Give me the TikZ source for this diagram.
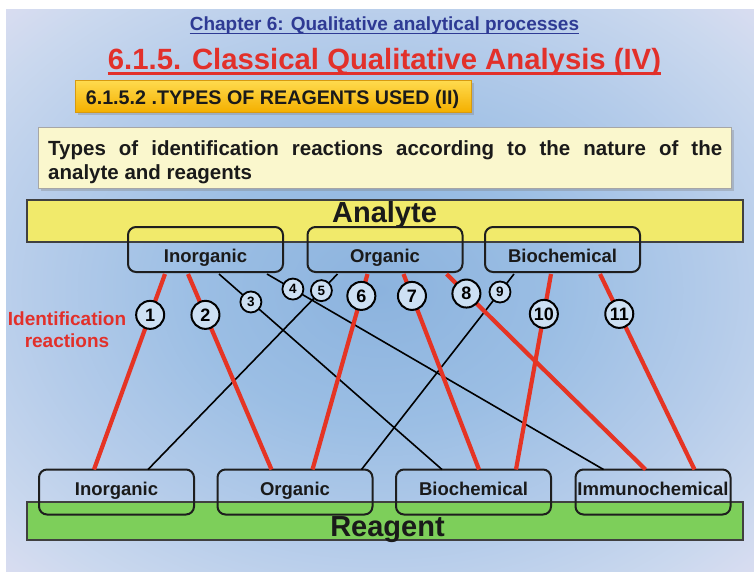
\documentclass[tikz,border=0pt]{standalone}
\usepackage{fontspec}
\setmainfont{Liberation Sans}
\usetikzlibrary{calc,shadows}
\definecolor{bgA}{HTML}{8CB3DE}
\definecolor{bgB}{HTML}{9BBEE4}
\definecolor{bgC}{HTML}{B5CCEA}
\definecolor{bgD}{HTML}{CAD8EE}
\definecolor{bgE}{HTML}{F5E6F5}
\definecolor{chapblue}{HTML}{2E3A94}
\definecolor{titred}{HTML}{E2302A}
\definecolor{lred}{HTML}{E53424}
\definecolor{orgtop}{HTML}{FFDB4F}
\definecolor{orgbot}{HTML}{F4B000}
\definecolor{orgborder}{HTML}{D79A10}
\definecolor{paleyel}{HTML}{FAF7CD}
\definecolor{anayel}{HTML}{F1EA6B}
\definecolor{reagreen}{HTML}{7DCF5A}
\definecolor{boxc}{HTML}{1E1E1E}
\definecolor{txt}{HTML}{1A1A1A}
\definecolor{cfill}{HTML}{CDE0F3}
\pgfdeclareradialshading{bgshade}{\pgfpoint{0bp}{0bp}}{color(0bp)=(bgA); color(12bp)=(bgB); color(23bp)=(bgC); color(31bp)=(bgD); color(44bp)=(bgE); color(50bp)=(bgE)}
\begin{document}
\begin{tikzpicture}[x=1pt, y=-1pt,
  subbox/.style={draw=boxc, line width=2pt, rounded corners=8pt, minimum width=155pt, minimum height=45pt, inner sep=0pt, outer sep=0pt},
  sublbl/.style={font=\fontsize{18.5}{20}\selectfont\bfseries, text=txt, anchor=base, inner sep=0pt},
  redln/.style={draw=lred, line width=4.2pt},
  blkln/.style={draw=black, line width=1.6pt},
  bignum/.style={circle, draw=black, line width=2pt, fill=cfill, minimum size=28pt, inner sep=0pt, font=\fontsize{18}{18}\selectfont\bfseries},
  smallnum/.style={circle, draw=black, line width=1.8pt, fill=cfill, minimum size=21pt, inner sep=0pt, font=\fontsize{13.5}{14}\selectfont\bfseries},
  bar/.style={draw=boxc!85, line width=2pt, inner sep=0pt, outer sep=0pt, minimum width=716pt}
]
\useasboundingbox (0,0) rectangle (754,571);
\shade[shading=bgshade] (6,9) rectangle (754,571);

% titles
\node[anchor=base, inner sep=0pt, font=\fontsize{19}{22}\selectfont\bfseries, text=chapblue] (chap) at (384.5,30) {Chapter 6: Qualitative analytical processes};
\draw[chapblue, line width=1.4pt] ($(chap.base west)+(0,3.5)$) -- ($(chap.base east)+(0,3.5)$);
\node[anchor=base, inner sep=0pt, font=\fontsize{29.3}{32}\selectfont\bfseries, text=titred] (main) at (384.5,69.5) {6.1.5. Classical Qualitative Analysis (IV)};
\draw[titred, line width=3.3pt] ($(main.base west)+(0,4.3)$) -- ($(main.base east)+(0,4.3)$);

% section box
\node[draw=orgborder, line width=0.6pt, top color=orgtop, bottom color=orgbot, minimum width=396pt, minimum height=32pt, inner sep=0pt,
  drop shadow={shadow xshift=2.5pt, shadow yshift=-2.5pt, opacity=0.35}] (secbox) at (273,96) {};
\node[anchor=base, inner sep=0pt, font=\fontsize{19.7}{22}\selectfont\bfseries, text=txt] (sectxt) at (272.5,104) {6.1.5.2 .TYPES OF REAGENTS USED (II)};

% description box
\node[draw=gray!70, line width=0.6pt, fill=paleyel, minimum width=693pt, minimum height=61pt, inner sep=0pt,
  drop shadow={shadow xshift=2.5pt, shadow yshift=-2.5pt, opacity=0.35}] (descbox) at (384.5,157.5) {};
\node[anchor=north west, inner sep=0pt, text width=674pt, align=justify, text=txt,
  font=\fontsize{20.5}{23.5}\selectfont\bfseries] (desc) at (48,140.5)
  {\hyphenpenalty=10000 \tolerance=9999 Types of identification reactions according to the nature of the\linebreak analyte and reagents};

% bars
\node[bar, fill=anayel, minimum height=42pt] (anabar) at (384.5,220.5) {};
\node[anchor=base, inner sep=0pt, font=\fontsize{29}{32}\selectfont\bfseries, text=txt] (analbl) at (384.5,222) {Analyte};
\node[bar, fill=reagreen, minimum height=38pt] (reabar) at (384.5,521) {};
\node[anchor=base, inner sep=0pt, font=\fontsize{29}{32}\selectfont\bfseries, text=txt] (realbl) at (387.5,536) {Reagent};

% analyte sub-boxes
\node[subbox] (aIn) at (205.5,249.5) {};
\node[subbox] (aOr) at (385,249.5) {};
\node[subbox] (aBi) at (562.5,249.5) {};
\node[sublbl] (aInL) at (205.5,262) {Inorganic};
\node[sublbl] (aOrL) at (385,262) {Organic};
\node[sublbl] (aBiL) at (562.5,262) {Biochemical};

% reagent sub-boxes
\node[subbox] (rIn) at (116.5,492) {};
\node[subbox] (rOr) at (295,492) {};
\node[subbox] (rBi) at (473.5,492) {};
\node[subbox] (rIm) at (653,492) {};
\node[sublbl] (rInL) at (116.5,495) {Inorganic};
\node[sublbl] (rOrL) at (295,495) {Organic};
\node[sublbl] (rBiL) at (473.5,495) {Biochemical};
\node[sublbl] (rImL) at (653,495) {Immunochemical};

% side label
\node[anchor=north, inner sep=0pt, align=center, font=\fontsize{19}{22}\selectfont\bfseries, text=titred] (idlbl) at (67,311.5) {Identification\\reactions};

% connector end points
\coordinate (t1) at ($(aIn.south west)+(37,2)$);
\coordinate (t2) at ($(aIn.south west)+(60,2)$);
\coordinate (t3) at ($(aIn.south west)+(91,2)$);
\coordinate (t4) at ($(aIn.south west)+(139,2)$);
\coordinate (t5) at ($(aOr.south west)+(30,2)$);
\coordinate (t6) at ($(aOr.south west)+(60,2)$);
\coordinate (t7) at ($(aOr.south west)+(96,2)$);
\coordinate (t8) at ($(aOr.south west)+(139,2)$);
\coordinate (t9) at ($(aBi.south west)+(29,2)$);
\coordinate (t10) at ($(aBi.south west)+(66,2)$);
\coordinate (t11) at ($(aBi.south west)+(115,2)$);
\coordinate (b1) at ($(rIn.north west)+(55,0)$);
\coordinate (b5) at ($(rIn.north west)+(109,0)$);
\coordinate (b2) at ($(rOr.north west)+(54,0)$);
\coordinate (b6) at ($(rOr.north west)+(95,0)$);
\coordinate (b9) at ($(rOr.north west)+(144,0)$);
\coordinate (b3) at ($(rBi.north west)+(46,0)$);
\coordinate (b7) at ($(rBi.north west)+(83,0)$);
\coordinate (b10) at ($(rBi.north west)+(120,0)$);
\coordinate (b4) at ($(rIm.north west)+(28,0)$);
\coordinate (b8) at ($(rIm.north west)+(70,0)$);
\coordinate (b11) at ($(rIm.north west)+(119,0)$);

% connectors
\draw[blkln] (t3) -- (b3);
\draw[blkln] (t4) -- (b4);
\draw[blkln] (t5) -- (b5);
\draw[blkln] (t9) -- (b9);
\draw[redln] (t1) -- (b1);
\draw[redln] (t2) -- (b2);
\draw[redln] (t6) -- (b6);
\draw[redln] (t7) -- (b7);
\draw[redln] (t8) -- (b8);
\draw[redln] (t10) -- (b10);
\draw[redln] (t11) -- (b11);

% number circles
\path (t1) -- node[bignum, pos=0.209] (n1) {1} (b1);
\path (t2) -- node[bignum, pos=0.209] (n2) {2} (b2);
\path (t3) -- node[smallnum, pos=0.143] (n3) {3} (b3);
\path (t4) -- node[smallnum, pos=0.077] (n4) {4} (b4);
\path (t5) -- node[smallnum, pos=0.085] (n5) {5} (b5);
\path (t6) -- node[bignum, pos=0.112] (n6) {6} (b6);
\path (t7) -- node[bignum, pos=0.112] (n7) {7} (b7);
\path (t8) -- node[bignum, pos=0.100] (n8) {8} (b8);
\path (t9) -- node[smallnum, pos=0.092] (n9) {9} (b9);
\path (t10) -- node[bignum, pos=0.204] (n10) {10} (b10);
\path (t11) -- node[bignum, pos=0.204] (n11) {11} (b11);
\end{tikzpicture}
\end{document}
